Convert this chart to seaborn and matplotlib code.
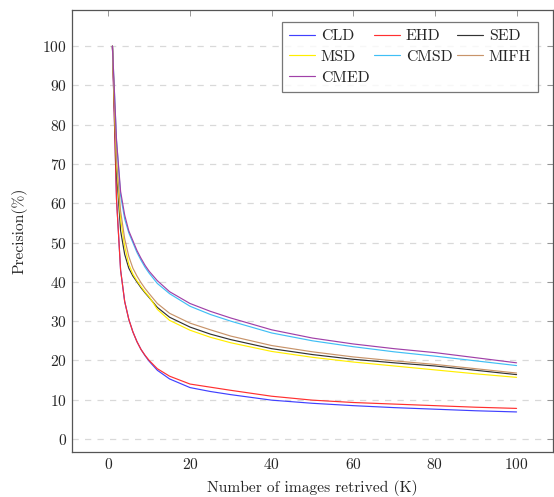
import numpy as np
import pandas as pd
import matplotlib
matplotlib.use("Agg")
import matplotlib.pyplot as plt
import seaborn as sns

# ===================== DATA =====================
k_values = [1, 2, 3, 4, 5, 6, 7, 8, 9, 10, 12, 15, 20, 25, 30, 40, 50, 60, 70, 80, 90, 100]

cld  = [100, 61, 43, 35, 30.5, 27.3, 24.8, 22.8, 21.2, 19.8, 17.5, 15.3, 13.1, 12.1, 11.3, 9.9, 9.1, 8.5, 8.0, 7.6, 7.2, 6.9]
ehd  = [100, 61, 43, 35, 30.5, 27.3, 24.8, 22.8, 21.3, 20.0, 17.9, 16.0, 14.0, 13.2, 12.4, 10.9, 9.9, 9.3, 8.9, 8.5, 8.1, 7.8]
sed  = [100, 68, 53, 47, 43.5, 41.5, 40, 38.5, 37.2, 36, 33.5, 31, 28.5, 26.7, 25.3, 23, 21.5, 20.3, 19.4, 18.6, 17.5, 16.4]
msd  = [100, 70, 56, 49, 44.5, 42, 40.3, 38.8, 37.4, 36.2, 33, 30.2, 27.7, 25.9, 24.5, 22.3, 20.8, 19.6, 18.6, 17.6, 16.6, 15.7]
cmsd = [100, 76, 62, 56, 52.5, 50, 47.5, 45.5, 43.7, 42.2, 39.6, 37, 33.8, 31.7, 30, 27, 25, 23.5, 22.2, 21.1, 19.9, 18.7]
mifh = [100, 71, 58, 51, 46.5, 43.5, 41.5, 39.8, 38.3, 37, 34.5, 32, 29.5, 27.8, 26.2, 23.8, 22.2, 20.9, 19.9, 19, 17.9, 16.8]
cmed = [100, 76, 63, 57, 53, 50.5, 48, 46, 44.2, 42.7, 40.3, 37.5, 34.5, 32.5, 30.8, 27.8, 25.7, 24.2, 23, 22, 20.7, 19.4]

methods = ["CLD", "EHD", "SED", "MSD", "CMSD", "MIFH", "CMED"]
series = [cld, ehd, sed, msd, cmsd, mifh, cmed]
colors = ["#4040ff", "#ff3030", "#333333", "#ffee00", "#40bff5", "#c8946a", "#a040a8"]

df = pd.concat(
    [pd.DataFrame({"K": k_values, "Precision": s, "Method": m}) for m, s in zip(methods, series)],
    ignore_index=True,
)

# ===================== STYLE =====================
sns.set_theme(style="white")
plt.rcParams["font.family"] = "serif"
plt.rcParams["font.serif"] = ["cmr10", "DejaVu Serif"]
plt.rcParams["axes.formatter.use_mathtext"] = True
plt.rcParams["mathtext.fontset"] = "cm"

fig = plt.figure(figsize=(5.54, 4.97), dpi=100)
ax = fig.add_axes([0.13, 0.0905, 0.868, 0.8895])

sns.lineplot(data=df, x="K", y="Precision", hue="Method", hue_order=methods,
             palette=dict(zip(methods, colors)), linewidth=0.85, ax=ax, legend=True)

ax.set_xlim(-8.9, 108.9)
ax.set_ylim(-3.3, 109.2)
ax.set_xticks([0, 20, 40, 60, 80, 100])
ax.set_yticks(range(0, 101, 10))
ax.tick_params(direction="in", length=4, width=0.6, color="#888888",
               labelsize=11.2, top=True, right=True, pad=3.5)
ax.yaxis.grid(True, linestyle=(0, (5, 5)), color="#d9d9d9", linewidth=0.9)
ax.xaxis.grid(False)
for sp in ax.spines.values():
    sp.set_color("#555555")
    sp.set_linewidth(0.9)

ax.set_xlabel("Number of images retrived (K)", fontsize=11.2, labelpad=6)
ax.set_ylabel("Precision(%)", fontsize=11.2, labelpad=11)

# row-wise legend order (matplotlib fills columns first)
handles, labels = ax.get_legend_handles_labels()
lookup = dict(zip(labels, handles))
order = ["CLD", "MSD", "CMED", "EHD", "CMSD", "SED", "MIFH"]
leg = ax.legend([lookup[m] for m in order], order, loc="upper right", ncol=3,
                fontsize=11.4, frameon=True, fancybox=False, edgecolor="#555555",
                handlelength=1.6, columnspacing=0.3, handletextpad=0.4,
                labelspacing=0.42, borderpad=0.45, borderaxespad=0,
                bbox_to_anchor=(0.97, 0.973))
leg.get_frame().set_linewidth(0.9)

fig.savefig("out.png", dpi=100)
